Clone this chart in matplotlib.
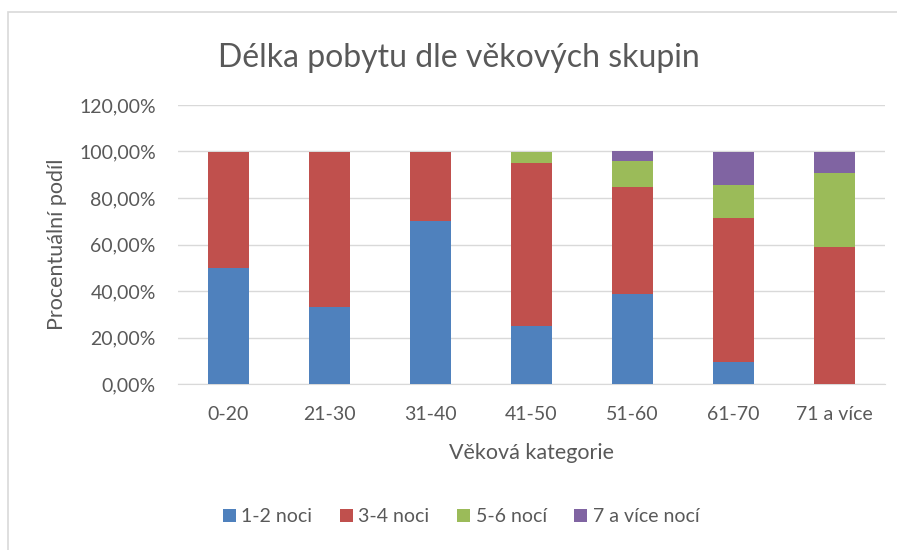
import matplotlib
matplotlib.use('Agg')
import matplotlib.pyplot as plt
from matplotlib.patches import Rectangle
from matplotlib.ticker import FuncFormatter
import numpy as np

plt.rcParams['font.family'] = ['Lato', 'DejaVu Sans']

# data (shares in %)
categories = ["0-20", "21-30", "31-40", "41-50", "51-60", "61-70", "71 a více"]
nights_1_2 = [50.0, 33.3, 70.0, 25.0, 38.5, 9.5, 0.0]
nights_3_4 = [50.0, 66.7, 30.0, 70.0, 46.1, 61.9, 59.1]
nights_5_6 = [0.0, 0.0, 0.0, 5.0, 11.5, 14.3, 31.8]
nights_7 = [0.0, 0.0, 0.0, 0.0, 3.9, 14.3, 9.1]
series_names = ["1-2 noci", "3-4 noci", "5-6 nocí", "7 a více nocí"]
yticks = [0, 20, 40, 60, 80, 100, 120]

colors = ["#4F81BD", "#C0504D", "#9BBB59", "#8064A2"]
text_col = "#595959"

fig = plt.figure(figsize=(8.97, 5.50), dpi=100)
# chart frame, cut off by the image on the right and bottom
fig.patches.append(Rectangle((8/897, -20/550), 920/897, 558/550, transform=fig.transFigure,
                             fill=False, edgecolor="#d9d9d9", linewidth=1.2))
ax = fig.add_axes([178/897, 1 - 384/550, 707/897, 279/550])

x = np.arange(len(categories))
bottom = np.zeros(len(categories))
for vals, name, c in zip([nights_1_2, nights_3_4, nights_5_6, nights_7], series_names, colors):
    vals = np.array(vals)
    ax.bar(x, vals, 0.40, bottom=bottom, color=c, label=name, zorder=3)
    bottom += vals

ax.set_xlim(-0.5, len(categories) - 0.5)
ax.set_ylim(0, 120)
ax.set_yticks(yticks)
ax.yaxis.set_major_formatter(FuncFormatter(lambda v, p: ("%.2f%%" % v).replace(".", ",")))
ax.set_xticks(x)
ax.set_xticklabels(categories)
ax.grid(axis='y', color="#d9d9d9", linewidth=1.0, zorder=0)
for s in ["top", "right", "left"]:
    ax.spines[s].set_visible(False)
ax.spines["bottom"].set_color("#d9d9d9")
ax.tick_params(length=0, labelsize=14, colors=text_col)
ax.tick_params(axis='x', pad=16)
ax.tick_params(axis='y', pad=16)

ax.set_xlabel("Věková kategorie", fontsize=15.5, color=text_col, labelpad=14)
ax.set_ylabel("Procentuální podíl", fontsize=15.5, color=text_col, labelpad=9)
fig.text(459/897, 1 - 67/550, "Délka pobytu dle věkových skupin", fontsize=23,
         color=text_col, ha="center", va="baseline")

leg = fig.legend(loc="center", bbox_to_anchor=(461/897, 1 - 517/550), ncol=4, frameon=False,
                 fontsize=14, handlelength=0.67, handleheight=0.67, handletextpad=0.3,
                 columnspacing=1.4)
for t in leg.get_texts():
    t.set_color(text_col)

fig.savefig("out.png", dpi=100)
